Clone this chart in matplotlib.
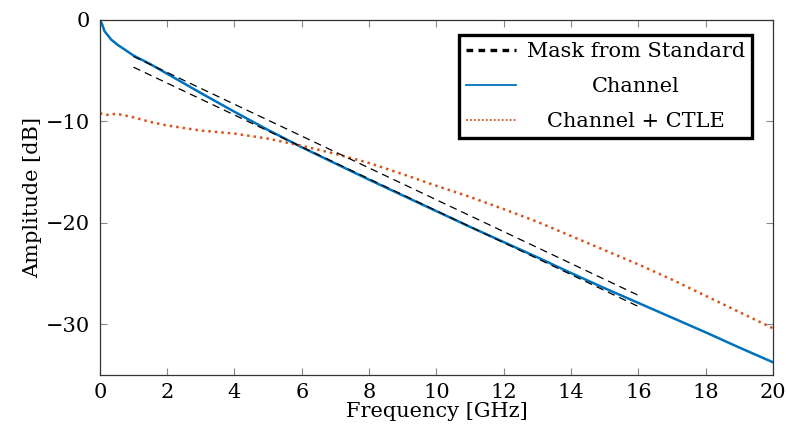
import matplotlib
matplotlib.use("Agg")
import matplotlib.pyplot as plt
from matplotlib.lines import Line2D

plt.rcParams['font.family'] = ['DejaVu Serif', 'Liberation Serif']
plt.rcParams['font.size'] = 15

# frequency grid in GHz
freq = [0, 0.06, 0.14, 0.34, 0.53, 1, 1.5, 2, 3, 4, 5, 6, 7, 8, 9, 10,
        11, 12, 13, 14, 15, 16, 17, 18, 19, 20]

# insertion loss of the bare channel [dB]
channel = [0, -0.35, -1.1, -1.94, -2.45, -3.5, -4.35, -5.3, -7.2, -9.05,
           -10.85, -12.55, -14.15, -15.75, -17.3, -18.85, -20.4, -21.9,
           -23.4, -24.95, -26.45, -27.9, -29.35, -30.8, -32.3, -33.75]

# channel with CTLE equalization [dB]
ctle_freq = [0, 0.2, 0.5, 0.8, 1, 1.5, 2, 3, 4, 5, 6, 7, 8, 9, 10,
             11, 12, 13, 14, 15, 16, 17, 18, 19, 20]
ctle = [-9.2, -9.35, -9.25, -9.45, -9.6, -10.05, -10.4, -10.9, -11.2,
        -11.7, -12.4, -13.2, -14.1, -15.2, -16.35, -17.45, -18.65,
        -19.9, -21.3, -22.7, -24.1, -25.6, -27.2, -28.8, -30.4]

# mask limits from the standard [dB]
mask_freq = [1, 16]
mask_upper = [-3.6, -27.15]
mask_lower = [-4.65, -28.25]

blue = '#0072BD'
orange = '#D95319'

fig = plt.figure(figsize=(7.86, 4.30), dpi=100)
ax = fig.add_axes([0.127, 0.128, 0.8565, 0.8255])

ax.plot(freq, channel, color=blue, lw=1.8)
ax.plot(ctle_freq, ctle, color=orange, lw=1.8, ls=(0, (1, 1.6)))
ax.plot(mask_freq, mask_upper, color='black', lw=0.9, ls=(0, (6, 4)))
ax.plot(mask_freq, mask_lower, color='black', lw=0.9, ls=(0, (6, 4)))

ax.set_xlim(0, 20)
ax.set_ylim(-35, 0)
ax.set_xticks(range(0, 21, 2))
ax.set_yticks([0, -10, -20, -30])
ax.tick_params(direction='in', top=True, right=True, length=5,
               width=0.8, color='#888888')
ax.tick_params(axis='x', pad=6)
ax.tick_params(axis='y', pad=7)
for s in ax.spines.values():
    s.set_linewidth(0.9)
    s.set_color('#333333')

ax.set_xlabel('Frequency [GHz]', labelpad=0)
ax.set_ylabel('Amplitude [dB]', labelpad=3)

handles = [
    Line2D([], [], color='black', lw=2.4, ls=(0, (2, 1.6))),
    Line2D([], [], color=blue, lw=1.3),
    Line2D([], [], color=orange, lw=1.3, ls=(0, (1, 1.2))),
]
labels = ['Mask from Standard', 'Channel', 'Channel + CTLE']
leg = ax.legend(handles, labels, loc='upper right',
                bbox_to_anchor=(0.969, 0.958), fancybox=False,
                framealpha=1, edgecolor='black', handlelength=2.4,
                borderpad=0.35, labelspacing=0.76, handletextpad=0.5,
                borderaxespad=0)
leg.get_frame().set_linewidth(2.4)

# center the legend labels within their column
fig.canvas.draw()
renderer = fig.canvas.get_renderer()
widths = [t.get_window_extent(renderer).width for t in leg.get_texts()]
widest = max(widths)
for t, w in zip(leg.get_texts(), widths):
    t.set_position(((widest - w) / 2, 0))

fig.savefig('out.png', dpi=100)
